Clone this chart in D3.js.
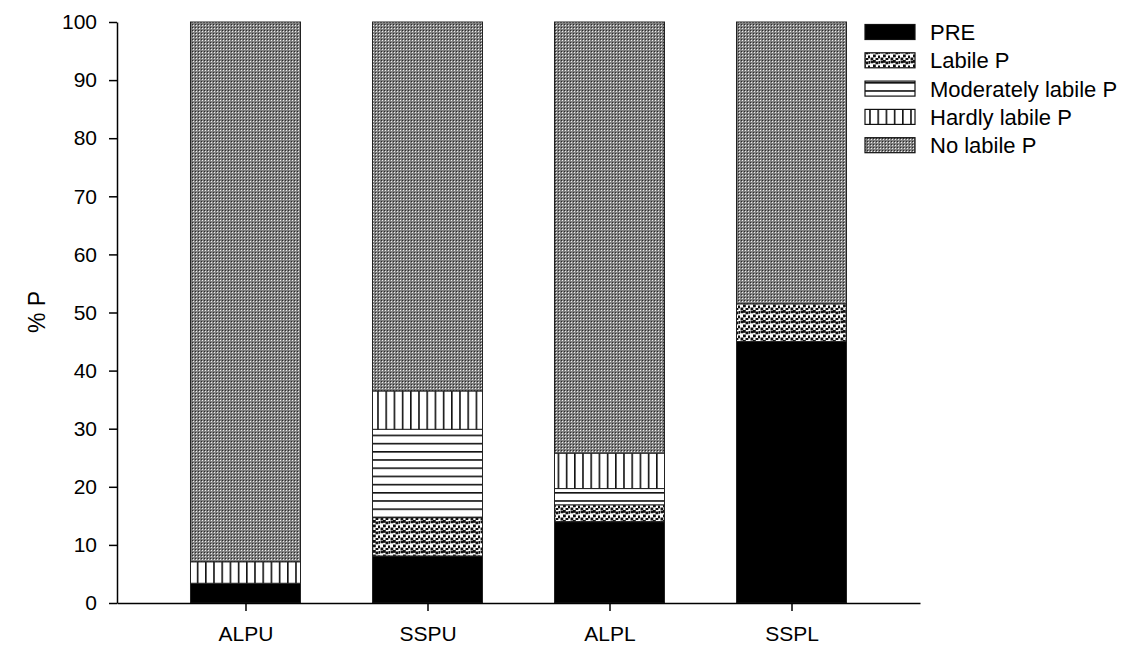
<!DOCTYPE html>
<html>
<head>
<meta charset="utf-8">
<script src="https://cdn.jsdelivr.net/npm/d3@7"></script>
<style>
  body { margin: 0; background: #fff; }
  svg { display: block; font-family: "Liberation Sans", Arial, sans-serif; }
</style>
</head>
<body>
<svg id="chart" width="1125" height="646"></svg>
<script>
const categories = ["ALPU", "SSPU", "ALPL", "SSPL"];
const seriesNames = ["PRE", "Labile P", "Moderately labile P", "Hardly labile P", "No labile P"];
const pre        = [3.4, 8.1, 14.0, 45.0];
const labile     = [0.0, 6.6, 2.9, 6.5];
const moderately = [0.0, 15.2, 2.8, 0.0];
const hardly     = [3.7, 6.6, 6.1, 0.0];
const noLabile   = [92.9, 63.5, 74.2, 48.5];
const yTicks = [0, 10, 20, 30, 40, 50, 60, 70, 80, 90, 100];

const seriesValues = [pre, labile, moderately, hardly, noLabile];
const rows = categories.map((c, i) => {
  const r = { cat: c };
  seriesNames.forEach((s, j) => r[s] = seriesValues[j][i]);
  return r;
});

const svg = d3.select("#chart");
const defs = svg.append("defs");

// Labile: scattered black squares on white
{
  const p = defs.append("pattern").attr("id", "pLabile").attr("patternUnits", "userSpaceOnUse")
    .attr("width", 10).attr("height", 10);
  p.append("rect").attr("width", 10).attr("height", 10).attr("fill", "#fff");
  [[0.5,0.5],[5.5,1.5],[3,4.5],[8,5.5],[0.5,7.5],[5.5,8],[8.5,1],[3,0]].forEach(([x,y]) =>
    p.append("rect").attr("x", x).attr("y", y).attr("width", 2.8).attr("height", 2.8).attr("fill", "#111"));
}
// Moderately: horizontal lines
{
  const p = defs.append("pattern").attr("id", "pMod").attr("patternUnits", "userSpaceOnUse")
    .attr("width", 8).attr("height", 8.2);
  p.append("rect").attr("width", 8).attr("height", 8.2).attr("fill", "#fff");
  p.append("rect").attr("x", 0).attr("y", 0).attr("width", 8).attr("height", 1.6).attr("fill", "#111");
}
// Hardly: vertical lines
{
  const p = defs.append("pattern").attr("id", "pHard").attr("patternUnits", "userSpaceOnUse")
    .attr("width", 8.2).attr("height", 8);
  p.append("rect").attr("width", 8.2).attr("height", 8).attr("fill", "#fff");
  p.append("rect").attr("x", 0).attr("y", 0).attr("width", 1.6).attr("height", 8).attr("fill", "#111");
}
// No labile: fine grey mesh
{
  const p = defs.append("pattern").attr("id", "pNo").attr("patternUnits", "userSpaceOnUse")
    .attr("width", 3).attr("height", 3);
  p.append("rect").attr("width", 3).attr("height", 3).attr("fill", "#808080");
  p.append("rect").attr("x", 1).attr("y", 1).attr("width", 1).attr("height", 1).attr("fill", "#eee");
  p.append("rect").attr("x", 0).attr("y", 0).attr("width", 1).attr("height", 1).attr("fill", "#2a2a2a");
}
const fills = ["#000", "url(#pLabile)", "url(#pMod)", "url(#pHard)", "url(#pNo)"];

const x = d3.scalePoint().domain(categories).range([117, 920]).padding(0.706);
const y = d3.scaleLinear().domain([0, 100]).range([603, 22]);
const barW = 110;

const stack = d3.stack().keys(seriesNames)(rows);

const gBars = svg.append("g");
stack.forEach((layer, j) => {
  gBars.selectAll(null).data(layer.filter(d => d[1] - d[0] > 0)).enter().append("rect")
    .attr("x", d => x(d.data.cat) - barW / 2)
    .attr("width", barW)
    .attr("y", d => y(d[1]))
    .attr("height", d => y(d[0]) - y(d[1]))
    .attr("fill", fills[j])
    .attr("stroke", "#222")
    .attr("stroke-width", 1);
});

// Axes
const yAxis = d3.axisLeft(y).tickValues(yTicks).tickSize(8).tickSizeOuter(0).tickPadding(12);
const gy = svg.append("g").attr("transform", "translate(117,0)").call(yAxis);
gy.selectAll("text").attr("font-size", 21).attr("fill", "#000").attr("font-family", "Liberation Sans, Arial, sans-serif");
gy.selectAll("line, path").attr("stroke", "#000").attr("stroke-width", 1.5);

const xAxis = d3.axisBottom(x).tickSize(8).tickSizeOuter(0).tickPadding(15);
const gx = svg.append("g").attr("transform", "translate(0,603)").call(xAxis);
gx.selectAll("text").attr("font-size", 21).attr("fill", "#000").attr("font-family", "Liberation Sans, Arial, sans-serif");
gx.selectAll("line, path").attr("stroke", "#000").attr("stroke-width", 1.5);

// Y label
svg.append("text")
  .attr("transform", "translate(45,312) rotate(-90)")
  .attr("text-anchor", "middle")
  .attr("font-size", 23)
  .text("% P");

// Legend
const lg = svg.append("g");
seriesNames.forEach((s, j) => {
  const cy = 32 + j * 28.3;
  lg.append("rect").attr("x", 865).attr("y", cy - 7.5).attr("width", 50).attr("height", 15)
    .attr("fill", fills[j]).attr("stroke", "#111").attr("stroke-width", 1.2);
  lg.append("text").attr("x", 930).attr("y", cy).attr("dy", "0.36em")
    .attr("font-size", 22).text(s);
});
</script>
</body>
</html>
